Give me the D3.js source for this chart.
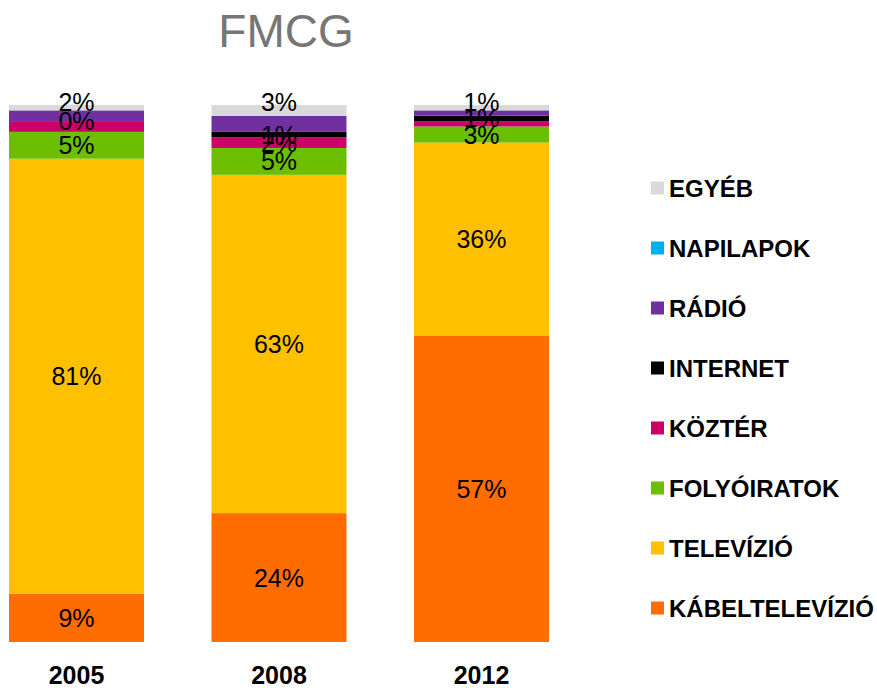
<!DOCTYPE html>
<html>
<head>
<meta charset="utf-8">
<script src="https://cdn.jsdelivr.net/npm/d3@7"></script>
<style>
  body { margin: 0; background: #fff; }
  text { font-family: "Liberation Sans", Arial, sans-serif; }
</style>
</head>
<body>
<div id="chart"></div>
<script>
// data (percent)
var years = ["2005", "2008", "2012"];
var seriesNames = ["KÁBELTELEVÍZIÓ", "TELEVÍZIÓ", "FOLYÓIRATOK", "KÖZTÉR", "INTERNET", "RÁDIÓ", "NAPILAPOK", "EGYÉB"];
var kabel = [9, 24, 57];
var televizio = [81, 63, 36];
var folyoiratok = [5, 5, 3];
var kozter = [2, 2, 1];
var internet = [0, 1, 1];
var radio = [2, 3, 1];
var napilapok = [0, 0, 0];
var egyeb = [2, 3, 1];
// which data labels show up in the original
var kozterLabels = [false, true, false];
var hiddenLabelSeries = ["RÁDIÓ", "NAPILAPOK"];

var colors = ["#ff6d00", "#ffc000", "#6bbf00", "#cc0066", "#000000", "#7030a0", "#00b0f0", "#d9d9d9"];

var allValues = [kabel, televizio, folyoiratok, kozter, internet, radio, napilapok, egyeb];

var W = 877, H = 688;
var svg = d3.select("#chart").append("svg")
    .attr("width", W)
    .attr("height", H);

svg.append("text")
    .attr("x", 286)
    .attr("y", 47)
    .attr("text-anchor", "middle")
    .style("font-size", "46px")
    .style("fill", "#767676")
    .text("FMCG");

var x = d3.scaleBand()
    .domain(years)
    .range([9, 549])
    .paddingInner(1/3)
    .paddingOuter(0);

var y = d3.scaleLinear()
    .domain([0, 100])
    .range([642, 105])
    .clamp(true);

// build rows for the stack
var rows = years.map(function(yr, i){
    var r = {year: yr};
    seriesNames.forEach(function(s, k){ r[s] = allValues[k][i]; });
    return r;
});

var stack = d3.stack().keys(seriesNames);
var layers = stack(rows);

var g = svg.append("g");

var layer = g.selectAll(".layer")
    .data(layers)
    .enter()
    .append("g")
    .attr("class", "layer")
    .style("fill", function(d, i){ return colors[i]; });

layer.selectAll("rect")
    .data(function(d){ return d; })
    .enter()
    .append("rect")
    .attr("x", function(d){ return x(d.data.year); })
    .attr("width", x.bandwidth())
    .attr("y", function(d){ return y(d[1]); })
    .attr("height", function(d){ return y(d[0]) - y(d[1]); });

// data labels
layers.forEach(function(l, k){
    var name = seriesNames[k];
    if (hiddenLabelSeries.indexOf(name) >= 0) return;
    l.forEach(function(d, i){
        if (name == "KÖZTÉR" && !kozterLabels[i]) return;
        var cy = y((d[0] + d[1]) / 2);
        if (name == "EGYÉB") cy = y(100) - 3;
        g.append("text")
            .attr("x", x(d.data.year) + x.bandwidth()/2)
            .attr("y", cy)
            .attr("dy", "0.36em")
            .attr("text-anchor", "middle")
            .style("font-size", "25px")
            .style("fill", "#000")
            .text(Math.round(d[1] - d[0]) + "%");
    });
});

// year axis
var xAxis = svg.append("g")
    .attr("transform", "translate(0,684)")
    .call(d3.axisBottom(x).tickSize(0).tickPadding(0));
xAxis.select(".domain").remove();
xAxis.selectAll("text")
    .attr("dy", 0)
    .style("font-family", "'Liberation Sans', Arial, sans-serif")
    .style("font-size", "25px")
    .style("font-weight", "bold")
    .style("fill", "#000");

// legend, reverse order (top = EGYÉB)
var legendNames = seriesNames.slice().reverse();
var legendColors = colors.slice().reverse();
var ly = d3.scalePoint()
    .domain(legendNames)
    .range([188, 608]);

var legend = svg.selectAll(".legend")
    .data(legendNames)
    .enter()
    .append("g")
    .attr("class", "legend")
    .attr("transform", function(d){ return "translate(651," + ly(d) + ")"; });

legend.append("rect")
    .attr("x", 0)
    .attr("y", -6.5)
    .attr("width", 13)
    .attr("height", 13)
    .style("fill", function(d, i){ return legendColors[i]; });

legend.append("text")
    .attr("x", 18)
    .attr("y", 0)
    .attr("dy", "0.36em")
    .style("font-size", "24px")
    .style("font-weight", "bold")
    .text(function(d){ return d; });
</script>
</body>
</html>
